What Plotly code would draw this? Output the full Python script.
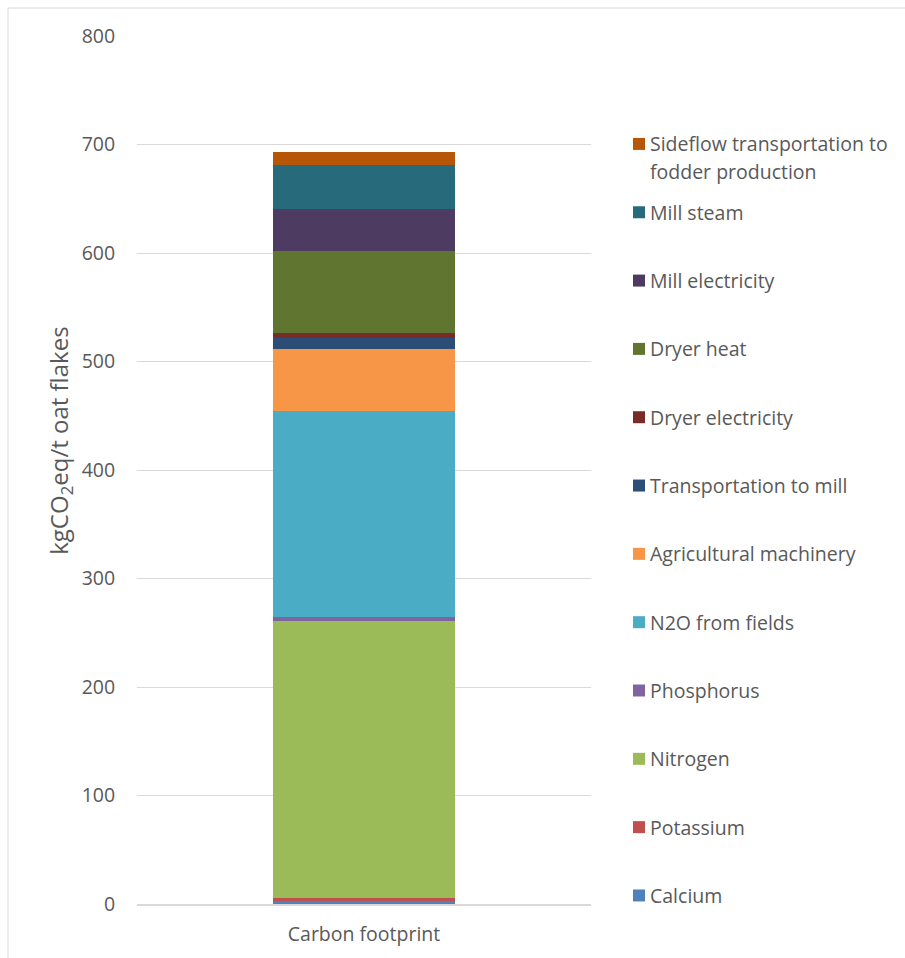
import plotly.graph_objects as go

# Carbon footprint contributions, kgCO2eq per tonne of oat flakes (stacked bottom to top)
categories = ["Carbon footprint"]
series_names = [
    "Calcium",
    "Potassium",
    "Nitrogen",
    "Phosphorus",
    "N2O from fields",
    "Agricultural machinery",
    "Transportation to mill",
    "Dryer electricity",
    "Dryer heat",
    "Mill electricity",
    "Mill steam",
    "Sideflow transportation to fodder production",
]
series_values = [3.2, 1.9, 255.9, 3.7, 189.7, 57.1, 10.5, 4.2, 75.5, 38.7, 40.8, 12.0]
series_colors = [
    "#4f81bd", "#c0504d", "#9bbb59", "#8064a2", "#4bacc6", "#f79646",
    "#2c4d75", "#772c2a", "#5f7530", "#4d3b62", "#276a7c", "#b65708",
]
y_ticks = [0, 100, 200, 300, 400, 500, 600, 700, 800]

W, H = 905, 958
L, R, T, B = 137, 314, 36, 53.5
PW, PH = W - L - R, H - T - B
FONT = "Open Sans"
TXT = "#595959"
FS = 19.5


def px_x(px):
    return (px - L) / PW


def px_y(py):
    return (H - B - py) / PH


fig = go.Figure()
for name, val, col in zip(series_names, series_values, series_colors):
    fig.add_trace(go.Bar(
        x=categories, y=[val], name=name, marker_color=col,
        marker_line_width=0, width=0.4, showlegend=False,
    ))

# Legend drawn as squares + labels, top entry first
shapes = []
annotations = []
top_y, step = 144, 68.36
for i, (name, col) in enumerate(zip(reversed(series_names), reversed(series_colors))):
    cy = top_y + i * step
    shapes.append(dict(
        type="rect", xref="paper", yref="paper",
        x0=px_x(633), x1=px_x(645), y0=px_y(cy - 6), y1=px_y(cy + 6),
        fillcolor=col, line_width=0,
    ))
    if name.startswith("Sideflow"):
        lines = ["Sideflow transportation to", "fodder production"]
    else:
        lines = [name]
    for j, line in enumerate(lines):
        annotations.append(dict(
            xref="paper", yref="paper", x=px_x(648), y=px_y(cy + 28 * j),
            xanchor="left", yanchor="middle", align="left", text=line,
            showarrow=False, font=dict(family=FONT, size=FS, color=TXT),
        ))

# Y axis title
annotations.append(dict(
    xref="paper", yref="paper", x=px_x(60), y=px_y(441),
    xanchor="center", yanchor="middle", textangle=-90,
    text="kgCO<sub>2</sub>eq/t oat flakes", showarrow=False,
    font=dict(family=FONT, size=24, color=TXT),
))

# Chart frame
shapes.append(dict(
    type="rect", xref="paper", yref="paper",
    x0=px_x(8), x1=px_x(W + 5), y0=px_y(H + 5), y1=px_y(8),
    line=dict(color="#d9d9d9", width=1), fillcolor="rgba(0,0,0,0)", layer="below",
))

fig.update_layout(
    barmode="stack",
    width=W, height=H,
    margin=dict(l=L, r=R, t=T, b=B, pad=0),
    paper_bgcolor="white", plot_bgcolor="white",
    font=dict(family=FONT, size=FS, color=TXT),
    shapes=shapes, annotations=annotations,
    bargap=0,
)
fig.update_xaxes(
    showgrid=False, showline=True, linecolor="#d9d9d9", linewidth=2,
    ticks="outside", ticklen=12, tickcolor="rgba(0,0,0,0)",
    tickfont=dict(family=FONT, size=FS, color=TXT),
)
fig.update_yaxes(
    range=[0, 800], tickvals=y_ticks, showgrid=True, gridcolor="#d9d9d9", gridwidth=1,
    zeroline=False, showline=False,
    ticks="outside", ticklen=17, tickcolor="rgba(0,0,0,0)",
    tickfont=dict(family=FONT, size=FS, color=TXT),
)

fig.write_html("out.html")
